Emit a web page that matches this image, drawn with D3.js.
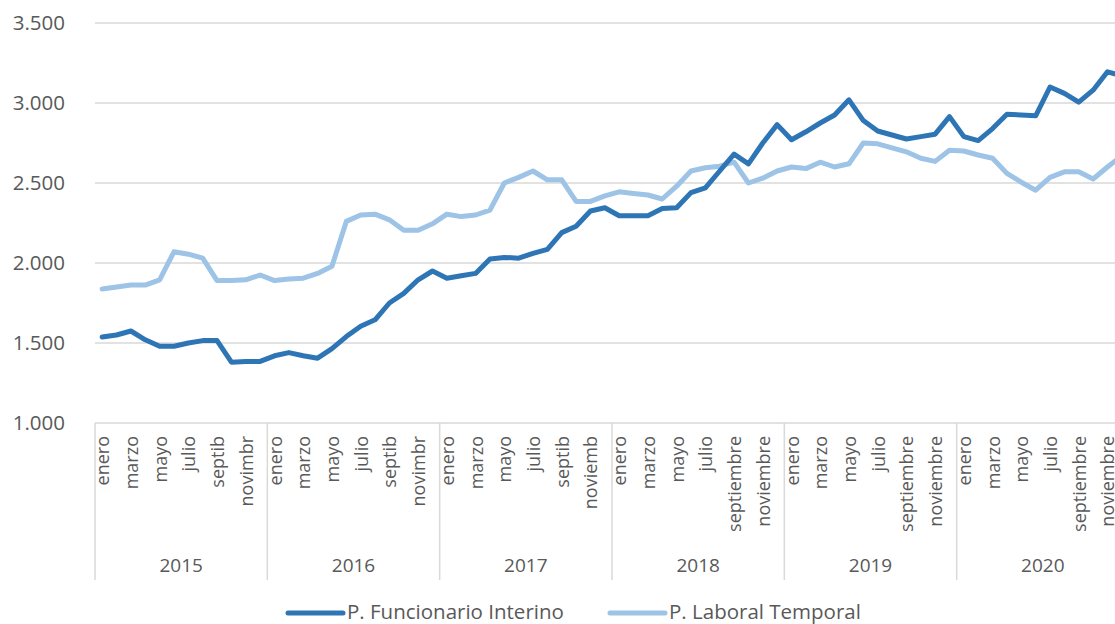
<!DOCTYPE html>
<html>
<head>
<meta charset="utf-8">
<script src="https://cdn.jsdelivr.net/npm/d3@7/dist/d3.min.js"></script>
<style>
  html, body { margin: 0; padding: 0; background: #fff; }
  svg { display: block; font-family: "Open Sans", "Noto Sans", sans-serif; }
</style>
</head>
<body>
<svg id="chart" width="1115" height="624"></svg>
<script>
const years = ["2015", "2016", "2017", "2018", "2019", "2020"];
const monthLabels = [
  ["enero", "marzo", "mayo", "julio", "septib", "novimbr"],
  ["enero", "marzo", "mayo", "julio", "septib", "novimbr"],
  ["enero", "marzo", "mayo", "julio", "septib", "noviemb"],
  ["enero", "marzo", "mayo", "julio", "septiembre", "noviembre"],
  ["enero", "marzo", "mayo", "julio", "septiembre", "noviembre"],
  ["enero", "marzo", "mayo", "julio", "septiembre", "noviembre"]
];
const yTicks = [1000, 1500, 2000, 2500, 3000, 3500];
const seriesNames = ["P. Funcionario Interino", "P. Laboral Temporal"];
const funcionarioInterino = [
  1537, 1550, 1575, 1520, 1480, 1480, 1500, 1515, 1515, 1380, 1385, 1385,
  1420, 1440, 1420, 1405, 1465, 1540, 1605, 1645, 1750, 1810, 1895, 1950,
  1905, 1920, 1935, 2025, 2035, 2030, 2060, 2085, 2190, 2230, 2325, 2345,
  2295, 2295, 2295, 2340, 2345, 2440, 2470, 2575, 2680, 2620, 2750, 2865,
  2770, 2820, 2875, 2925, 3020, 2890, 2825, 2800, 2775, 2790, 2805, 2915,
  2790, 2765, 2840, 2930, 2925, 2920, 3100, 3060, 3005, 3080, 3195, 3170
];
const laboralTemporal = [
  1837, 1850, 1862, 1862, 1895, 2070, 2055, 2030, 1890, 1890, 1895, 1925,
  1890, 1900, 1905, 1935, 1980, 2260, 2300, 2305, 2270, 2205, 2205, 2245,
  2305, 2290, 2300, 2330, 2500, 2535, 2575, 2520, 2520, 2385, 2385, 2420,
  2445, 2435, 2425, 2400, 2480, 2575, 2595, 2605, 2630, 2500, 2530, 2575,
  2600, 2590, 2630, 2600, 2620, 2750, 2745, 2720, 2695, 2655, 2635, 2705,
  2700, 2675, 2655, 2560, 2505, 2455, 2535, 2570, 2570, 2525, 2600, 2670
];

const colors = ["#2E75B6", "#9DC3E6"];
const svg = d3.select("#chart");
const pL = 95, pR = 1129, pT = 23, pB = 423;

const idx = d3.range(funcionarioInterino.length);
const x = d3.scaleBand().domain(idx).range([pL, pR]).padding(0);
const y = d3.scaleLinear().domain([1000, 3500]).range([pB, pT]);
const cx = i => x(i) + x.bandwidth() / 2;

// gridlines
svg.append("g").selectAll("line").data(yTicks.slice(1)).join("line")
  .attr("x1", pL).attr("x2", pR)
  .attr("y1", d => y(d)).attr("y2", d => y(d))
  .attr("stroke", "#D9D9D9").attr("stroke-width", 1.5);

// y labels
const fmt = d => d3.format(",")(d).replace(/,/g, ".");
svg.append("g").selectAll("text").data(yTicks).join("text")
  .attr("x", 65).attr("y", d => y(d)).attr("dy", "0.36em")
  .attr("text-anchor", "end").attr("fill", "#595959")
  .attr("font-size", 20.5).text(fmt);

// category axis
const axisG = svg.append("g");
axisG.append("line").attr("x1", pL).attr("x2", pR)
  .attr("y1", pB).attr("y2", pB)
  .attr("stroke", "#D9D9D9").attr("stroke-width", 1.5);
const yearBounds = d3.range(years.length + 1).map(k => k * 12);
axisG.selectAll("line.sep").data(yearBounds).join("line").attr("class", "sep")
  .attr("x1", k => k < idx.length ? x(k) : pR)
  .attr("x2", k => k < idx.length ? x(k) : pR)
  .attr("y1", pB).attr("y2", 580)
  .attr("stroke", "#D9D9D9").attr("stroke-width", 1.5);

const monthData = [];
years.forEach((yr, k) => monthLabels[k].forEach((m, j) => monthData.push({ i: k * 12 + j * 2, label: m })));
axisG.selectAll("text.month").data(monthData).join("text").attr("class", "month")
  .attr("transform", d => `translate(${cx(d.i) + 7},436) rotate(-90)`)
  .attr("text-anchor", "end").attr("fill", "#595959")
  .attr("font-size", 18).text(d => d.label);

axisG.selectAll("text.year").data(years).join("text").attr("class", "year")
  .attr("x", (d, k) => x(k * 12) + x.bandwidth() * 6)
  .attr("y", 572).attr("text-anchor", "middle").attr("fill", "#595959")
  .attr("font-size", 19).text(d => d);

// lines
const line = d3.line().x((d, i) => cx(i)).y(d => y(d));
[laboralTemporal, funcionarioInterino].forEach((s, r) => {
  const k = 1 - r;
  svg.append("path").datum(s).attr("d", line)
    .attr("fill", "none").attr("stroke", colors[k]).attr("stroke-width", 5)
    .attr("stroke-linejoin", "round").attr("stroke-linecap", "round");
});

// legend
const legX = [288, 610];
const leg = svg.append("g");
seriesNames.forEach((n, k) => {
  leg.append("line").attr("x1", legX[k]).attr("x2", legX[k] + 55)
    .attr("y1", 613).attr("y2", 613).attr("stroke", colors[k])
    .attr("stroke-width", 5).attr("stroke-linecap", "round");
  leg.append("text").attr("x", legX[k] + 59).attr("y", 619)
    .attr("fill", "#595959").attr("font-size", 20.5).text(n);
});
</script>
</body>
</html>
